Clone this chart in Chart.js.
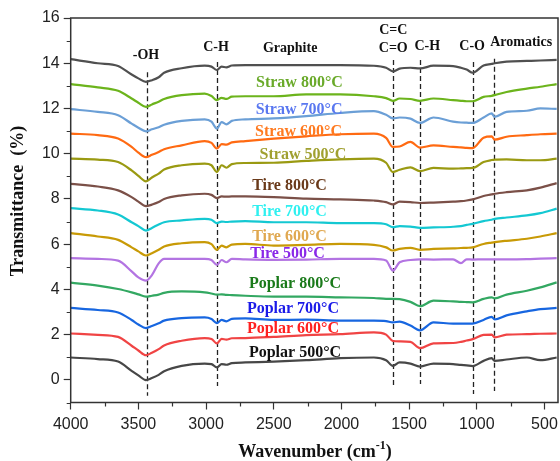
<!DOCTYPE html>
<html>
<head>
<meta charset="utf-8">
<script src="https://cdn.jsdelivr.net/npm/chart.js@4.4.0/dist/chart.umd.min.js"></script>
<style>
  html, body { margin: 0; padding: 0; background: #fff; }
  #wrap { width: 560px; height: 461px; position: relative; }
</style>
</head>
<body>
<div id="wrap"><canvas id="ftir"></canvas></div>
<script>
// FTIR spectra, stacked with offsets (wavenumber in cm-1)
const wavenumbers = [4000, 3800, 3650, 3550, 3500, 3444, 3400, 3350, 3310, 3180, 3010, 2960, 2920, 2885, 2850, 2810, 2710, 2500, 2260, 2010,
  1760, 1670, 1620, 1570, 1490, 1420, 1320, 1175, 1117, 1075, 1030, 950, 890, 868, 780, 630, 530, 410];

const graphite  = [14.18, 14.0, 13.88, 13.5, 13.33, 13.18, 13.25, 13.38, 13.58, 13.78, 13.89, 13.85, 13.7, 13.85, 13.82, 13.9, 13.92, 13.92, 13.92, 13.92,
  13.89, 13.8, 13.64, 13.76, 13.8, 13.77, 13.89, 13.87, 13.8, 13.72, 13.58, 13.9, 13.97, 14.0, 14.07, 14.1, 14.12, 14.15];
const straw800  = [13.08, 12.93, 12.78, 12.44, 12.25, 12.07, 12.18, 12.3, 12.42, 12.59, 12.66, 12.55, 12.37, 12.47, 12.42, 12.52, 12.54, 12.54, 12.62, 12.62,
  12.54, 12.46, 12.34, 12.44, 12.42, 12.34, 12.44, 12.37, 12.34, 12.32, 12.32, 12.51, 12.56, 12.59, 12.73, 12.88, 12.96, 13.08];
const straw700  = [11.97, 11.85, 11.7, 11.33, 11.15, 10.99, 11.08, 11.17, 11.28, 11.45, 11.52, 11.42, 11.11, 11.4, 11.3, 11.45, 11.52, 11.56, 11.66, 11.8,
  11.88, 11.72, 11.56, 11.6, 11.55, 11.36, 11.6, 11.42, 11.38, 11.37, 11.36, 11.6, 11.78, 11.63, 11.85, 11.9, 12.0, 11.98];
const straw600  = [10.89, 10.82, 10.67, 10.3, 10.05, 9.85, 9.95, 10.08, 10.2, 10.37, 10.56, 10.48, 10.23, 10.42, 10.4, 10.5, 10.56, 10.67, 10.77, 10.86,
  10.89, 10.7, 10.3, 10.32, 10.52, 10.27, 10.37, 10.3, 10.28, 10.26, 10.25, 10.71, 10.77, 10.62, 10.75, 10.82, 10.86, 10.89];
const straw500  = [9.78, 9.74, 9.63, 9.26, 9.02, 8.78, 8.95, 9.12, 9.3, 9.49, 9.56, 9.49, 9.19, 9.49, 9.38, 9.54, 9.59, 9.6, 9.68, 9.75,
  9.78, 9.6, 9.19, 9.29, 9.4, 9.23, 9.37, 9.34, 9.35, 9.36, 9.37, 9.63, 9.72, 9.74, 9.75, 9.71, 9.71, 9.78];
const tire800   = [8.67, 8.55, 8.38, 8.08, 7.88, 7.68, 7.75, 7.86, 8.0, 8.16, 8.23, 8.18, 8.04, 8.11, 8.1, 8.11, 8.11, 8.08, 8.01, 7.98,
  7.93, 7.86, 7.76, 7.88, 7.86, 7.82, 7.84, 7.88, 7.9, 7.93, 7.98, 8.13, 8.2, 8.23, 8.3, 8.38, 8.5, 8.7];
const tire700   = [7.59, 7.49, 7.31, 6.97, 6.8, 6.6, 6.72, 6.87, 6.97, 7.05, 7.12, 7.08, 6.93, 7.0, 6.98, 7.0, 7.02, 6.97, 6.97, 6.93,
  6.93, 6.88, 6.75, 6.8, 6.78, 6.72, 6.74, 6.77, 6.8, 6.85, 6.9, 7.02, 7.08, 7.12, 7.18, 7.27, 7.37, 7.57];
const tire600   = [6.49, 6.34, 6.19, 5.86, 5.68, 5.5, 5.6, 5.75, 5.9, 6.04, 6.09, 6.0, 5.75, 5.94, 5.86, 5.98, 6.01, 5.94, 5.97, 6.01,
  5.97, 5.86, 5.72, 5.79, 5.84, 5.75, 5.79, 5.81, 5.83, 5.84, 5.86, 6.01, 6.07, 6.09, 6.15, 6.24, 6.34, 6.49];
const tire500   = [5.38, 5.35, 5.27, 4.8, 4.53, 4.39, 4.63, 5.15, 5.35, 5.35, 5.35, 5.3, 5.08, 5.3, 5.2, 5.35, 5.33, 5.31, 5.32, 5.35,
  5.35, 5.28, 4.83, 5.2, 5.3, 5.33, 5.32, 5.33, 5.16, 5.33, 5.32, 5.33, 5.33, 5.33, 5.33, 5.34, 5.36, 5.38];
const poplar800 = [4.3, 4.17, 4.02, 3.87, 3.78, 3.68, 3.72, 3.77, 3.85, 3.91, 3.87, 3.82, 3.77, 3.78, 3.76, 3.75, 3.72, 3.68, 3.68, 3.65,
  3.62, 3.58, 3.58, 3.57, 3.45, 3.26, 3.5, 3.47, 3.45, 3.44, 3.43, 3.58, 3.65, 3.6, 3.77, 3.94, 4.09, 4.31];
const poplar700 = [3.18, 3.09, 2.98, 2.65, 2.45, 2.29, 2.38, 2.5, 2.62, 2.73, 2.76, 2.69, 2.51, 2.65, 2.59, 2.7, 2.72, 2.65, 2.66, 2.62,
  2.62, 2.6, 2.54, 2.58, 2.4, 2.19, 2.54, 2.49, 2.49, 2.49, 2.49, 2.65, 2.79, 2.67, 2.85, 3.03, 3.13, 3.18];
const poplar600 = [2.05, 1.99, 1.9, 1.51, 1.3, 1.09, 1.2, 1.36, 1.52, 1.73, 1.85, 1.81, 1.61, 1.81, 1.78, 1.84, 1.85, 1.9, 1.98, 2.02,
  2.1, 2.0, 1.72, 1.7, 1.68, 1.4, 1.61, 1.63, 1.68, 1.74, 1.8, 1.99, 2.0, 1.88, 2.0, 2.02, 2.04, 2.05];
const poplar500 = [0.99, 0.92, 0.81, 0.4, 0.2, -0.01, 0.08, 0.22, 0.38, 0.62, 0.72, 0.7, 0.55, 0.7, 0.67, 0.74, 0.77, 0.81, 0.87, 0.96,
  0.99, 0.87, 0.62, 0.77, 0.72, 0.59, 0.72, 0.7, 0.66, 0.64, 0.61, 0.84, 0.96, 0.84, 0.9, 0.99, 0.87, 0.99];

const seriesNames = ['Graphite', 'Straw 800°C', 'Straw 700°C', 'Straw 600°C', 'Straw 500°C', 'Tire 800°C', 'Tire 700°C',
  'Tire 600°C', 'Tire 500°C', 'Poplar 800°C', 'Poplar 700°C', 'Poplar 600°C', 'Poplar 500°C'];
const seriesValues = [graphite, straw800, straw700, straw600, straw500, tire800, tire700, tire600, tire500, poplar800, poplar700, poplar600, poplar500];

// band assignments marked with dashed lines
const bandNames = ['-OH', 'C-H', 'C=C', 'C-H', 'C-O', 'Aromatics'];
const bandPeaks = [3440, 2920, 1620, 1420, 1030, 870];

const yTicks = [0, 2, 4, 6, 8, 10, 12, 14, 16];
const xTicks = [4000, 3500, 3000, 2500, 2000, 1500, 1000, 500];

// styling
const lineColors = ['#505050', '#6cb41c', '#6b9fd6', '#ff6a12', '#9a9a12', '#7b5048', '#14c8d2', '#c89a06', '#b374e2',
  '#33a862', '#1766e0', '#f04444', '#474747'];
const labelColors = [null, '#6aaa2a', '#5a78f0', '#ff7a20', '#a0a030', '#6a3a1a', '#30f0f0', '#e0a850', '#8a28e8',
  '#1a7a1a', '#1a1ae8', '#ff2020', '#111111'];
// label centres in data units (wavenumber, transmittance)
const labelPos = [null, [2310, 13.12], [2313, 11.92], [2317, 10.95], [2284, 9.97], [2383, 8.6], [2383, 7.45],
  [2383, 6.34], [2398, 5.59], [2343, 4.26], [2358, 3.15], [2358, 2.26], [2343, 1.2]];
const dashTop = [13.6, 14.05, 14.14, 14.14, 14.05, 14.2];
const dashBottom = [-0.7, -0.27, -0.27, -0.18, -0.62, -0.49];

const SERIF = '"Liberation Serif", "Times New Roman", serif';
const SANS = '"Liberation Sans", Arial, sans-serif';

const overlay = {
  id: 'overlay',
  beforeDatasetsDraw(chart) {
    const { ctx, scales: { x, y } } = chart;
    ctx.save();
    ctx.setLineDash([5, 3]);
    ctx.lineWidth = 1.3;
    ctx.strokeStyle = '#222';
    bandPeaks.forEach((wn, i) => {
      const px = Math.round(x.getPixelForValue(wn)) + 0.5;
      ctx.beginPath();
      ctx.moveTo(px, y.getPixelForValue(dashTop[i]));
      ctx.lineTo(px, y.getPixelForValue(dashBottom[i]));
      ctx.stroke();
    });
    ctx.restore();
  },
  afterDraw(chart) {
    const { ctx, chartArea: a, scales: { x, y } } = chart;
    ctx.save();
    // frame
    ctx.strokeStyle = '#333';
    ctx.lineWidth = 1.5;
    ctx.strokeRect(a.left, a.top, a.right - a.left, a.bottom - a.top);

    // minor ticks
    ctx.lineWidth = 1.2;
    ctx.beginPath();
    for (let v = -1; v <= 15; v += 2) {
      const py = Math.round(y.getPixelForValue(v)) + 0.5;
      ctx.moveTo(a.left - 4, py); ctx.lineTo(a.left, py);
    }
    for (let w = 3750; w > 400; w -= 500) {
      const px = Math.round(x.getPixelForValue(w)) + 0.5;
      ctx.moveTo(px, a.bottom); ctx.lineTo(px, a.bottom + 4);
    }
    ctx.stroke();

    // band labels
    ctx.fillStyle = '#111';
    ctx.font = 'bold 14px ' + SERIF;
    ctx.textAlign = 'center';
    ctx.textBaseline = 'middle';
    const bandText = [['-OH', 3444, 14.36], ['C-H', 2926, 14.72], ['Graphite', 2379, 14.67], ['C=C', 1617, 15.47],
      ['C=O', 1617, 14.67], ['C-H', 1366, 14.76], ['C-O', 1034, 14.76], ['Aromatics', 672, 14.9]];
    bandText.forEach(([t, wn, v]) => ctx.fillText(t, x.getPixelForValue(wn), y.getPixelForValue(v)));

    // series labels
    ctx.font = 'bold 16px ' + SERIF;
    seriesNames.forEach((name, i) => {
      if (!labelPos[i]) return;
      ctx.fillStyle = labelColors[i];
      ctx.fillText(name, x.getPixelForValue(labelPos[i][0]), y.getPixelForValue(labelPos[i][1]));
    });

    // axis titles
    ctx.fillStyle = '#111';
    ctx.font = 'bold 18px ' + SERIF;
    ctx.save();
    ctx.translate(18, 201);
    ctx.rotate(-Math.PI / 2);
    ctx.fillText('Transmittance  (%)', 0, 0);
    ctx.restore();

    const main = 'Wavenumber (cm';
    const sup = '-1';
    const tail = ')';
    ctx.font = 'bold 18px ' + SERIF;
    const wMain = ctx.measureText(main).width;
    const wTail = ctx.measureText(tail).width;
    ctx.font = 'bold 12px ' + SERIF;
    const wSup = ctx.measureText(sup).width;
    let sx = 315 - (wMain + wSup + wTail) / 2;
    ctx.textAlign = 'left';
    ctx.font = 'bold 18px ' + SERIF;
    ctx.fillText(main, sx, 452);
    sx += wMain;
    ctx.font = 'bold 12px ' + SERIF;
    ctx.fillText(sup, sx, 446);
    sx += wSup;
    ctx.font = 'bold 18px ' + SERIF;
    ctx.fillText(tail, sx, 452);
    ctx.restore();
  }
};

const datasets = seriesValues.map((vals, i) => ({
  label: seriesNames[i],
  data: wavenumbers.map((w, k) => ({ x: w, y: vals[k] })),
  borderColor: lineColors[i],
  borderWidth: 2.2,
  pointRadius: 0,
  cubicInterpolationMode: 'monotone',
  fill: false
}));

new Chart(document.getElementById('ftir'), {
  type: 'line',
  data: { datasets },
  options: {
    responsive: true,
    maintainAspectRatio: false,
    animation: false,
    layout: { padding: { top: 18, right: 2, left: 0, bottom: 0 } },
    plugins: { legend: { display: false }, tooltip: { enabled: false } },
    scales: {
      x: {
        type: 'linear',
        reverse: true,
        min: 400,
        max: 4000,
        afterBuildTicks: (s) => { s.ticks = xTicks.map(v => ({ value: v })); },
        afterFit: (s) => { s.height = 58.5; s.paddingLeft = 0; s.paddingRight = 0; },
        border: { display: false },
        grid: { drawOnChartArea: false, tickLength: 7, tickColor: '#333', tickWidth: 1.2 },
        ticks: { color: '#222', font: { family: SANS, size: 16 }, padding: 5, maxRotation: 0, callback: (v) => String(v) }
      },
      y: {
        type: 'linear',
        min: -1,
        max: 16,
        afterBuildTicks: (s) => { s.ticks = yTicks.map(v => ({ value: v })); },
        afterFit: (s) => { s.width = 70.7; s.paddingTop = 0; s.paddingBottom = 0; },
        border: { display: false },
        grid: { drawOnChartArea: false, tickLength: 7, tickColor: '#333', tickWidth: 1.2 },
        ticks: { color: '#222', font: { family: SANS, size: 16 }, padding: 4, callback: (v) => String(v) }
      }
    }
  },
  plugins: [overlay]
});
</script>
</body>
</html>
